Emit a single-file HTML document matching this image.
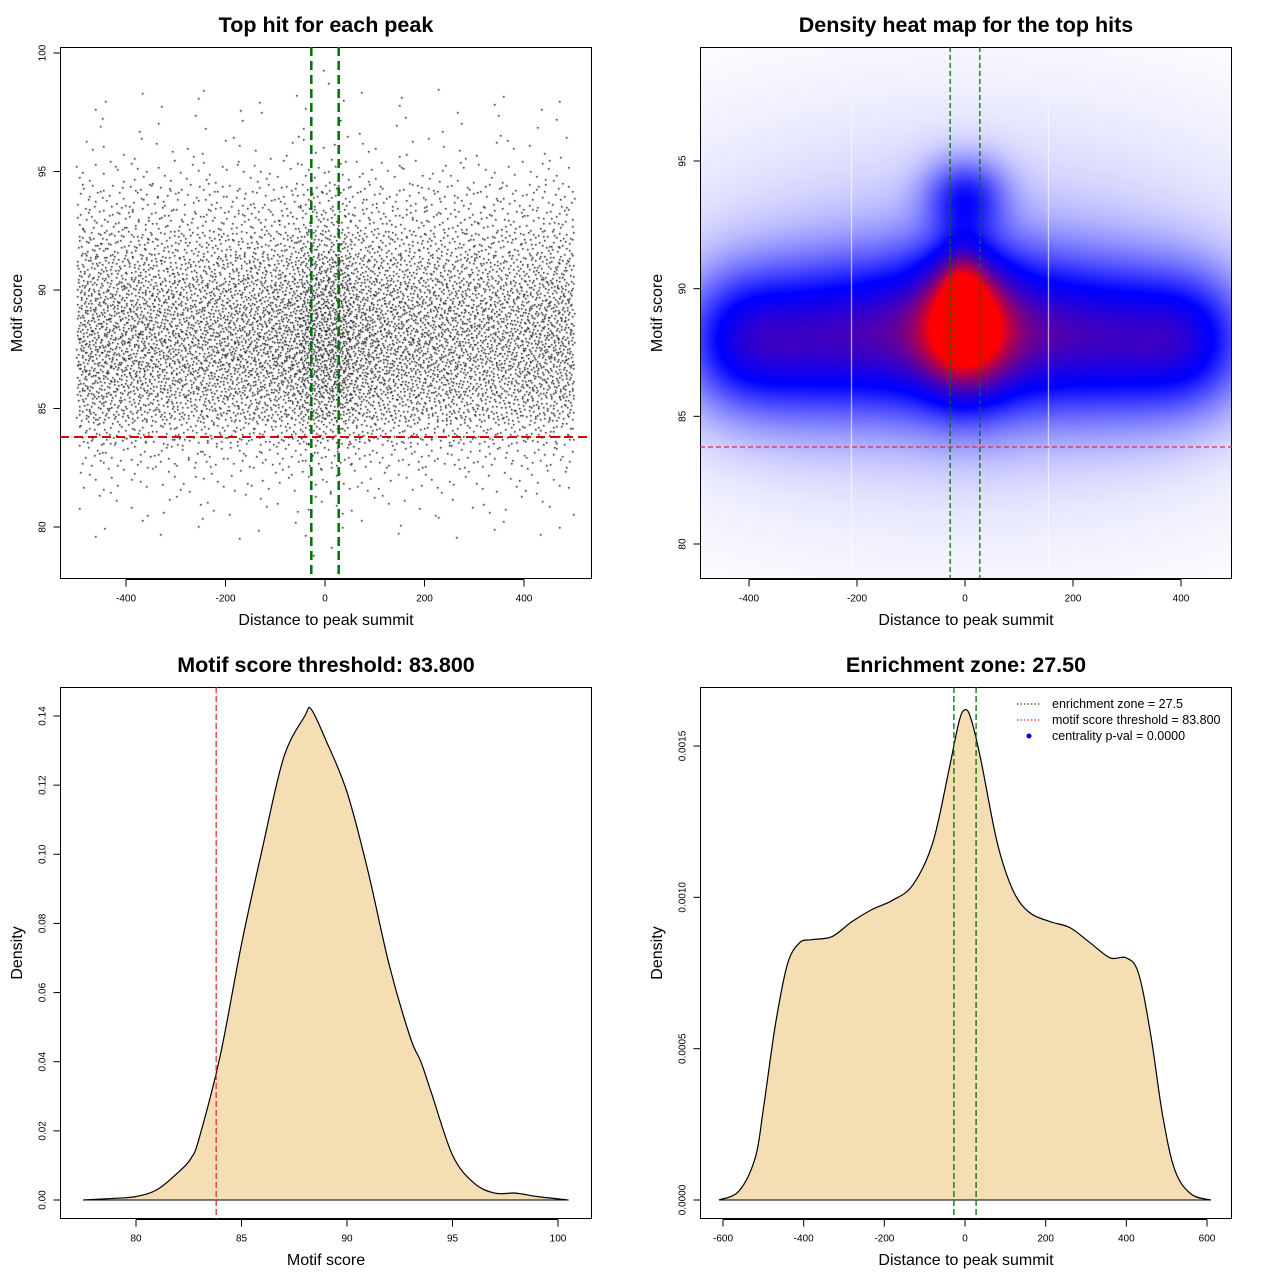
<!DOCTYPE html>
<html><head><meta charset="utf-8">
<style>
html,body{margin:0;padding:0;background:#fff;}
#root{position:relative;width:1280px;height:1280px;overflow:hidden;font-family:"Liberation Sans",sans-serif;}
canvas{position:absolute;}
svg{position:absolute;left:0;top:0;}
</style></head>
<body>
<div id="root">
<canvas id="scatter" width="532" height="532" style="left:60px;top:47px"></canvas>
<canvas id="heat" width="532" height="532" style="left:700px;top:47px"></canvas>
<svg id="svg" width="1280" height="1280" xmlns="http://www.w3.org/2000/svg"></svg>
</div>
<script>
// ---------- data ----------
const scoreBins = [78,79,80,81,82,83,84,85,86,87,88,89,90,91,92,93,94,95,96,97,98,99];
const scoreCounts = [3,8,20,45,90,190,400,720,930,1050,1080,1020,900,700,500,320,230,100,45,20,14,8];
const distBins = [-475,-425,-375,-325,-275,-225,-175,-125,-75,-25,25,75,125,175,225,275,325,375,425,475];
const distWeights = [1.0,1.0,1.0,0.98,0.95,1.0,1.02,1.05,1.15,1.5,1.5,1.15,1.05,1.0,0.98,0.97,0.95,0.95,1.0,1.0];
const heatCx = [-420,-300,-170,-50,50,170,300,420,0,-5,0,0];
const heatCy = [88,88,88.2,88.3,88.3,88.2,88,88,88.6,90,93.6,89];
const heatSx = [75,85,85,85,85,85,85,75,55,30,50,380];
const heatSy = [1.8,2.0,2.0,2.1,2.1,2.0,2.0,1.8,1.8,1.2,1.0,4.5];
const heatW  = [0.40,0.38,0.37,0.37,0.37,0.37,0.38,0.40,0.62,0.32,0.35,0.10];
const scoreX = [77.5,79,80,81,82,82.6,83,84,85,86,87,88,88.3,89,90,91,92,93,93.5,94,95,96,97,98,99,100.5];
const scoreD = [0,0.0005,0.001,0.003,0.008,0.012,0.018,0.042,0.074,0.102,0.128,0.140,0.142,0.133,0.118,0.095,0.068,0.047,0.040,0.031,0.013,0.005,0.002,0.002,0.001,0];
const distX = [-610,-560,-520,-500,-470,-440,-410,-380,-330,-280,-230,-180,-130,-80,-40,-15,0,15,40,80,120,160,210,260,310,360,400,430,460,490,520,560,610];
const distD = [0,0.00003,0.00014,0.0003,0.00058,0.00078,0.00085,0.00086,0.00087,0.00092,0.00096,0.00099,0.00104,0.00118,0.00142,0.00158,0.00162,0.00159,0.00145,0.00118,0.00102,0.00095,0.00092,0.00090,0.00085,0.00080,0.00080,0.00075,0.00055,0.00028,0.0001,0.00002,0];
const xTicks1 = [-400,-200,0,200,400];
const yTicks1 = [80,85,90,95,100];
const yTicks2 = [80,85,90,95];
const xTicks3 = [80,85,90,95,100];
const yTicks3 = [0,0.02,0.04,0.06,0.08,0.10,0.12,0.14];
const yTickLab3 = ["0.00","0.02","0.04","0.06","0.08","0.10","0.12","0.14"];
const xTicks4 = [-600,-400,-200,0,200,400,600];
const yTicks4 = [0,0.0005,0.001,0.0015];
const yTickLab4 = ["0.0000","0.0005","0.0010","0.0015"];

const NS="http://www.w3.org/2000/svg";
const svg=document.getElementById('svg');
function el(tag,attrs,parent,text){const e=document.createElementNS(NS,tag);for(const k in attrs)e.setAttribute(k,attrs[k]);if(text!==undefined)e.textContent=text;(parent||svg).appendChild(e);return e;}
function lin(d0,d1,p0,p1){return v=>p0+(v-d0)*(p1-p0)/(d1-d0);}
function smoothPath(P){let d='M'+P[0][0].toFixed(1)+','+P[0][1].toFixed(1);
  for(let i=0;i<P.length-1;i++){const p0=P[Math.max(0,i-1)],p1=P[i],p2=P[i+1],p3=P[Math.min(P.length-1,i+2)];
    const c1=[p1[0]+(p2[0]-p0[0])/6,p1[1]+(p2[1]-p0[1])/6],c2=[p2[0]-(p3[0]-p1[0])/6,p2[1]-(p3[1]-p1[1])/6];
    d+=` C${c1[0].toFixed(1)},${c1[1].toFixed(1)} ${c2[0].toFixed(1)},${c2[1].toFixed(1)} ${p2[0].toFixed(1)},${p2[1].toFixed(1)}`;}
  return d;}

function panel(name,box,title,xlab,ylab,sx,sy,xt,yt,ytl){
  const g=el('g',{},svg);
  
  
  const t=el('text',{x:(box.x0+box.x1)/2,y:box.y0-15,'text-anchor':'middle','font-size':21.5,'font-weight':'bold'},g,title);
  
  const r=el('rect',{x:box.x0+0.5,y:box.y0+0.5,width:box.x1-box.x0-1,height:box.y1-box.y0-1,fill:'none',stroke:'#000','stroke-width':1},g);
  
  const xa=el('g',{},g);
  const ya0=box.y1+0.5;
  el('line',{x1:sx(xt[0]),x2:sx(xt[xt.length-1]),y1:ya0,y2:ya0,stroke:'#000'},xa);
  xt.forEach(v=>{el('line',{x1:sx(v),x2:sx(v),y1:ya0,y2:ya0+7,stroke:'#000'},xa);
    const l=el('text',{x:sx(v),y:ya0+22,'text-anchor':'middle','font-size':10},xa,String(v));});
  const xl=el('text',{x:(box.x0+box.x1)/2,y:box.y1+46,'text-anchor':'middle','font-size':16},g,xlab);
  
  const ya=el('g',{},g);
  const xa0=box.x0+0.5;
  el('line',{x1:xa0,x2:xa0,y1:sy(yt[0]),y2:sy(yt[yt.length-1]),stroke:'#000'},ya);
  yt.forEach((v,i)=>{el('line',{x1:xa0-7,x2:xa0,y1:sy(v),y2:sy(v),stroke:'#000'},ya);
    const lx=xa0-15;
    const l=el('text',{x:lx,y:sy(v),'text-anchor':'middle','font-size':10,transform:`rotate(-90 ${lx} ${sy(v)})`},ya,ytl?ytl[i]:String(v));});
  const yx=box.x0-38,yy=(box.y0+box.y1)/2;
  const yl=el('text',{x:yx,y:yy,'text-anchor':'middle','font-size':16,transform:`rotate(-90 ${yx} ${yy})`},g,ylab);
  
  return g;
}
function vline(g,x,y0,y1,color,w,dash,name){const l=el('line',{x1:x,x2:x,y1:y0,y2:y1,stroke:color,'stroke-width':w,'stroke-dasharray':dash},g);}
function hline(g,y,x0,x1,color,w,dash,name){const l=el('line',{x1:x0,x2:x1,y1:y,y2:y,stroke:color,'stroke-width':w,'stroke-dasharray':dash},g);}

// ---------- panel 1 ----------
const b1={x0:60,x1:592,y0:47,y1:579};
const sx1=lin(0,400,325,524), sy1=lin(80,100,527,53);
function halton(i,b){let f=1,r=0;while(i>0){f/=b;r+=f*(i%b);i=Math.floor(i/b);}return r;}
(function(){
  const c=document.getElementById('scatter').getContext('2d');
  c.fillStyle='#000';
  const wsum=distWeights.reduce((a,b)=>a+b,0);
  let k=1;
  scoreBins.forEach((s,i)=>{
    distBins.forEach((d,j)=>{
      const n=Math.round(scoreCounts[i]*distWeights[j]/wsum);
      for(let m=0;m<n;m++,k++){
        const xv=d-25+50*halton(k,2), yv=s-0.5+halton(k,3);
        const px=Math.round(sx1(xv))-b1.x0, py=Math.round(sy1(yv))-b1.y0;
        c.fillRect(px,py,1.5,1.5);
      }
    });
  });
})();
const p1=panel('scatter-panel',b1,'Top hit for each peak','Distance to peak summit','Motif score',sx1,sy1,xTicks1,yTicks1);
vline(p1,sx1(-27.5),b1.y0,b1.y1,'#007000',2.5,'9 5','enrichment-line-left');
vline(p1,sx1(27.5),b1.y0,b1.y1,'#007000',2.5,'9 5','enrichment-line-right');
hline(p1,sy1(83.8),b1.x0,b1.x1,'#e00000',2,'9 5','threshold-line');

// ---------- panel 2 ----------
const b2={x0:700,x1:1232,y0:47,y1:579};
const sx2=lin(0,400,965,1181), sy2=lin(80,95,544,161);
(function(){
  const cv=document.getElementById('heat'),c=cv.getContext('2d');
  const img=c.createImageData(532,532);
  const ix=lin(965,1181,0,400), iy=lin(544,161,80,95);
  for(let py=0;py<532;py++){const yv=iy(py+b2.y0);
    for(let px=0;px<532;px++){const xv=ix(px+b2.x0);
      let d=0;for(let q=0;q<heatCx.length;q++){const a=(xv-heatCx[q])/heatSx[q],b=(yv-heatCy[q])/heatSy[q];d+=heatW[q]*Math.exp(-0.5*(a*a+b*b));}
      let t=Math.min(1,d/1.3);let R,G,B;
      if(t<0.36){const s=Math.pow(t/0.36,0.8);R=255*(1-s);G=255*(1-s);B=255;}
      else{const s=Math.min(1,Math.pow((t-0.36)/0.5,1.3));R=255*s;G=0;B=255*(1-s);}
      const o=(py*532+px)*4;img.data[o]=R;img.data[o+1]=G;img.data[o+2]=B;img.data[o+3]=255;}}
  c.putImageData(img,0,0);
  c.fillStyle='rgba(255,255,255,0.8)';c.fillRect(151,60,1,460);c.fillRect(348,60,1,460);
})();
const p2=panel('heatmap-panel',b2,'Density heat map for the top hits','Distance to peak summit','Motif score',sx2,sy2,xTicks1,yTicks2);
vline(p2,sx2(-27.5),b2.y0,b2.y1,'#007000',1.3,'5 3','enrichment-line-left');
vline(p2,sx2(27.5),b2.y0,b2.y1,'#007000',1.3,'5 3','enrichment-line-right');
hline(p2,sy2(83.8),b2.x0,b2.x1,'#e03030',1.3,'5 3','threshold-line');

// ---------- panel 3 ----------
const b3={x0:60,x1:592,y0:687,y1:1219};
const sx3=lin(80,100,136,558), sy3=lin(0,0.14,1200,716);
const p3=panel('score-density-panel',b3,'Motif score threshold: 83.800','Motif score','Density',sx3,sy3,xTicks3,yTicks3,yTickLab3);
(function(){
  const P=scoreX.map((v,i)=>[sx3(v),sy3(scoreD[i])]);
  const d=smoothPath(P);
  const poly=el('path',{d:d+' Z',fill:'#F5DEB3',stroke:'none'},p3);
  const pl=el('path',{d:d,fill:'none',stroke:'#000','stroke-width':1.2},p3);
  hline(p3,sy3(0),sx3(scoreX[0]),sx3(scoreX[scoreX.length-1]),'#000',1,'none','baseline');
})();
vline(p3,sx3(83.8),b3.y0,b3.y1,'#e03030',1.3,'6 3','threshold-line');

// ---------- panel 4 ----------
const b4={x0:700,x1:1232,y0:687,y1:1219};
const sx4=lin(0,600,965,1207), sy4=lin(0,0.0015,1200,746);
const p4=panel('distance-density-panel',b4,'Enrichment zone: 27.50','Distance to peak summit','Density',sx4,sy4,xTicks4,yTicks4,yTickLab4);
(function(){
  const P=distX.map((v,i)=>[sx4(v),sy4(distD[i])]);
  const d=smoothPath(P);
  const poly=el('path',{d:d+' Z',fill:'#F5DEB3',stroke:'none'},p4);
  const pl=el('path',{d:d,fill:'none',stroke:'#000','stroke-width':1.2},p4);
  hline(p4,sy4(0),sx4(distX[0]),sx4(distX[distX.length-1]),'#000',1,'none','baseline');
})();
vline(p4,sx4(-27.5),b4.y0,b4.y1,'#007000',1.3,'6 3','enrichment-line-left');
vline(p4,sx4(27.5),b4.y0,b4.y1,'#007000',1.3,'6 3','enrichment-line-right');
(function(){
  const lg=el('g',{},p4);
  const items=[['enrichment zone = 27.5','#007000','line'],['motif score threshold = 83.800','#e03030','line'],['centrality p-val = 0.0000','#0000ff','dot']];
  items.forEach((it,i)=>{const y=704+i*16;
    const e=el('g',{},lg);
    if(it[2]==='line')el('line',{x1:1017,x2:1041,y1:y,y2:y,stroke:it[1],'stroke-dasharray':'1.5 2','stroke-width':1.2},e);
    else el('circle',{cx:1029,cy:y,r:2.5,fill:it[1]},e);
    el('text',{x:1052,y:y+4,'font-size':12.5},e,it[0]);});
})();
</script>
</body></html>
